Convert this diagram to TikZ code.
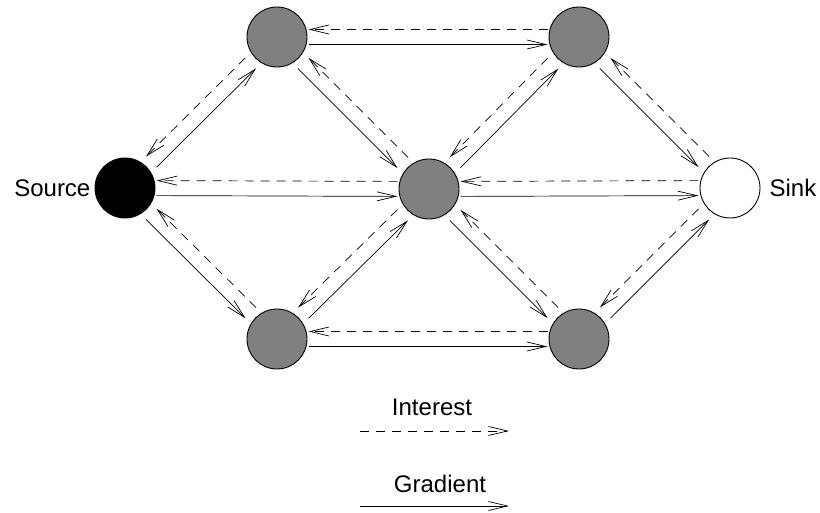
\documentclass[tikz,border=0pt]{standalone}
\usepackage{fontspec}
\setmainfont{Liberation Sans}
\usetikzlibrary{calc,arrows.meta}
\definecolor{nodegray}{RGB}{128,128,128}
\tikzset{
  sensor/.style={circle, draw, line width=0.9pt, minimum size=60pt, inner sep=0pt, fill=nodegray},
  grad/.style={line width=0.7pt, -{Straight Barb[length=19pt,width=9pt,line width=0.7pt]}},
  intr/.style={grad, dash pattern=on 9pt off 7pt},
  lbl/.style={inner sep=0pt, font=\fontsize{24}{28}\selectfont}
}
% solid gradient a -> b and dashed interest b -> a, each shifted to the right of its direction
\newcommand\linkpair[3]{%
  \draw[grad] ($(#1)!#3!(#2)!7.5pt!-90:(#2)$) -- ($(#2)!#3!(#1)!7.5pt!90:(#1)$);
  \draw[intr] ($(#2)!#3!(#1)!7.5pt!-90:(#1)$) -- ($(#1)!#3!(#2)!7.5pt!90:(#2)$);
}
\begin{document}
\begin{tikzpicture}[x=1pt,y=-1pt]
  \useasboundingbox (0,0) rectangle (820,513);
  % sensor field
  \node[sensor, fill=black] (src) at (125,188) {};
  \node[sensor] (tl) at (277,37) {};
  \node[sensor] (tr) at (579,37) {};
  \node[sensor] (ctr) at (429,189) {};
  \node[sensor] (bl) at (277,339) {};
  \node[sensor] (br) at (579,339) {};
  \node[sensor, fill=white] (snk) at (730,188) {};
  \node[lbl, anchor=east] (srclbl) at ([xshift=-4pt]src.west) {Source};
  \node[lbl, anchor=west] (snklbl) at ([xshift=9pt]snk.east) {Sink};
  % links
  \linkpair{src}{tl}{37pt}
  \linkpair{src}{ctr}{31.5pt}
  \linkpair{src}{bl}{37pt}
  \linkpair{tl}{tr}{31.5pt}
  \linkpair{tl}{ctr}{37pt}
  \linkpair{bl}{ctr}{37pt}
  \linkpair{bl}{br}{31.5pt}
  \linkpair{ctr}{tr}{37pt}
  \linkpair{ctr}{snk}{31.5pt}
  \linkpair{ctr}{br}{37pt}
  \linkpair{tr}{snk}{37pt}
  \linkpair{br}{snk}{37pt}
  % legend
  \node[lbl, anchor=base] (intlbl) at (432,415) {Interest};
  \coordinate (i0) at (360,431);
  \coordinate (i1) at (509,431);
  \draw[intr] (i0) -- (i1);
  \node[lbl, anchor=base] (gradlbl) at (440,492) {Gradient};
  \coordinate (g0) at (360,506);
  \coordinate (g1) at (509,506);
  \draw[grad] (g0) -- (g1);
\end{tikzpicture}
\end{document}
